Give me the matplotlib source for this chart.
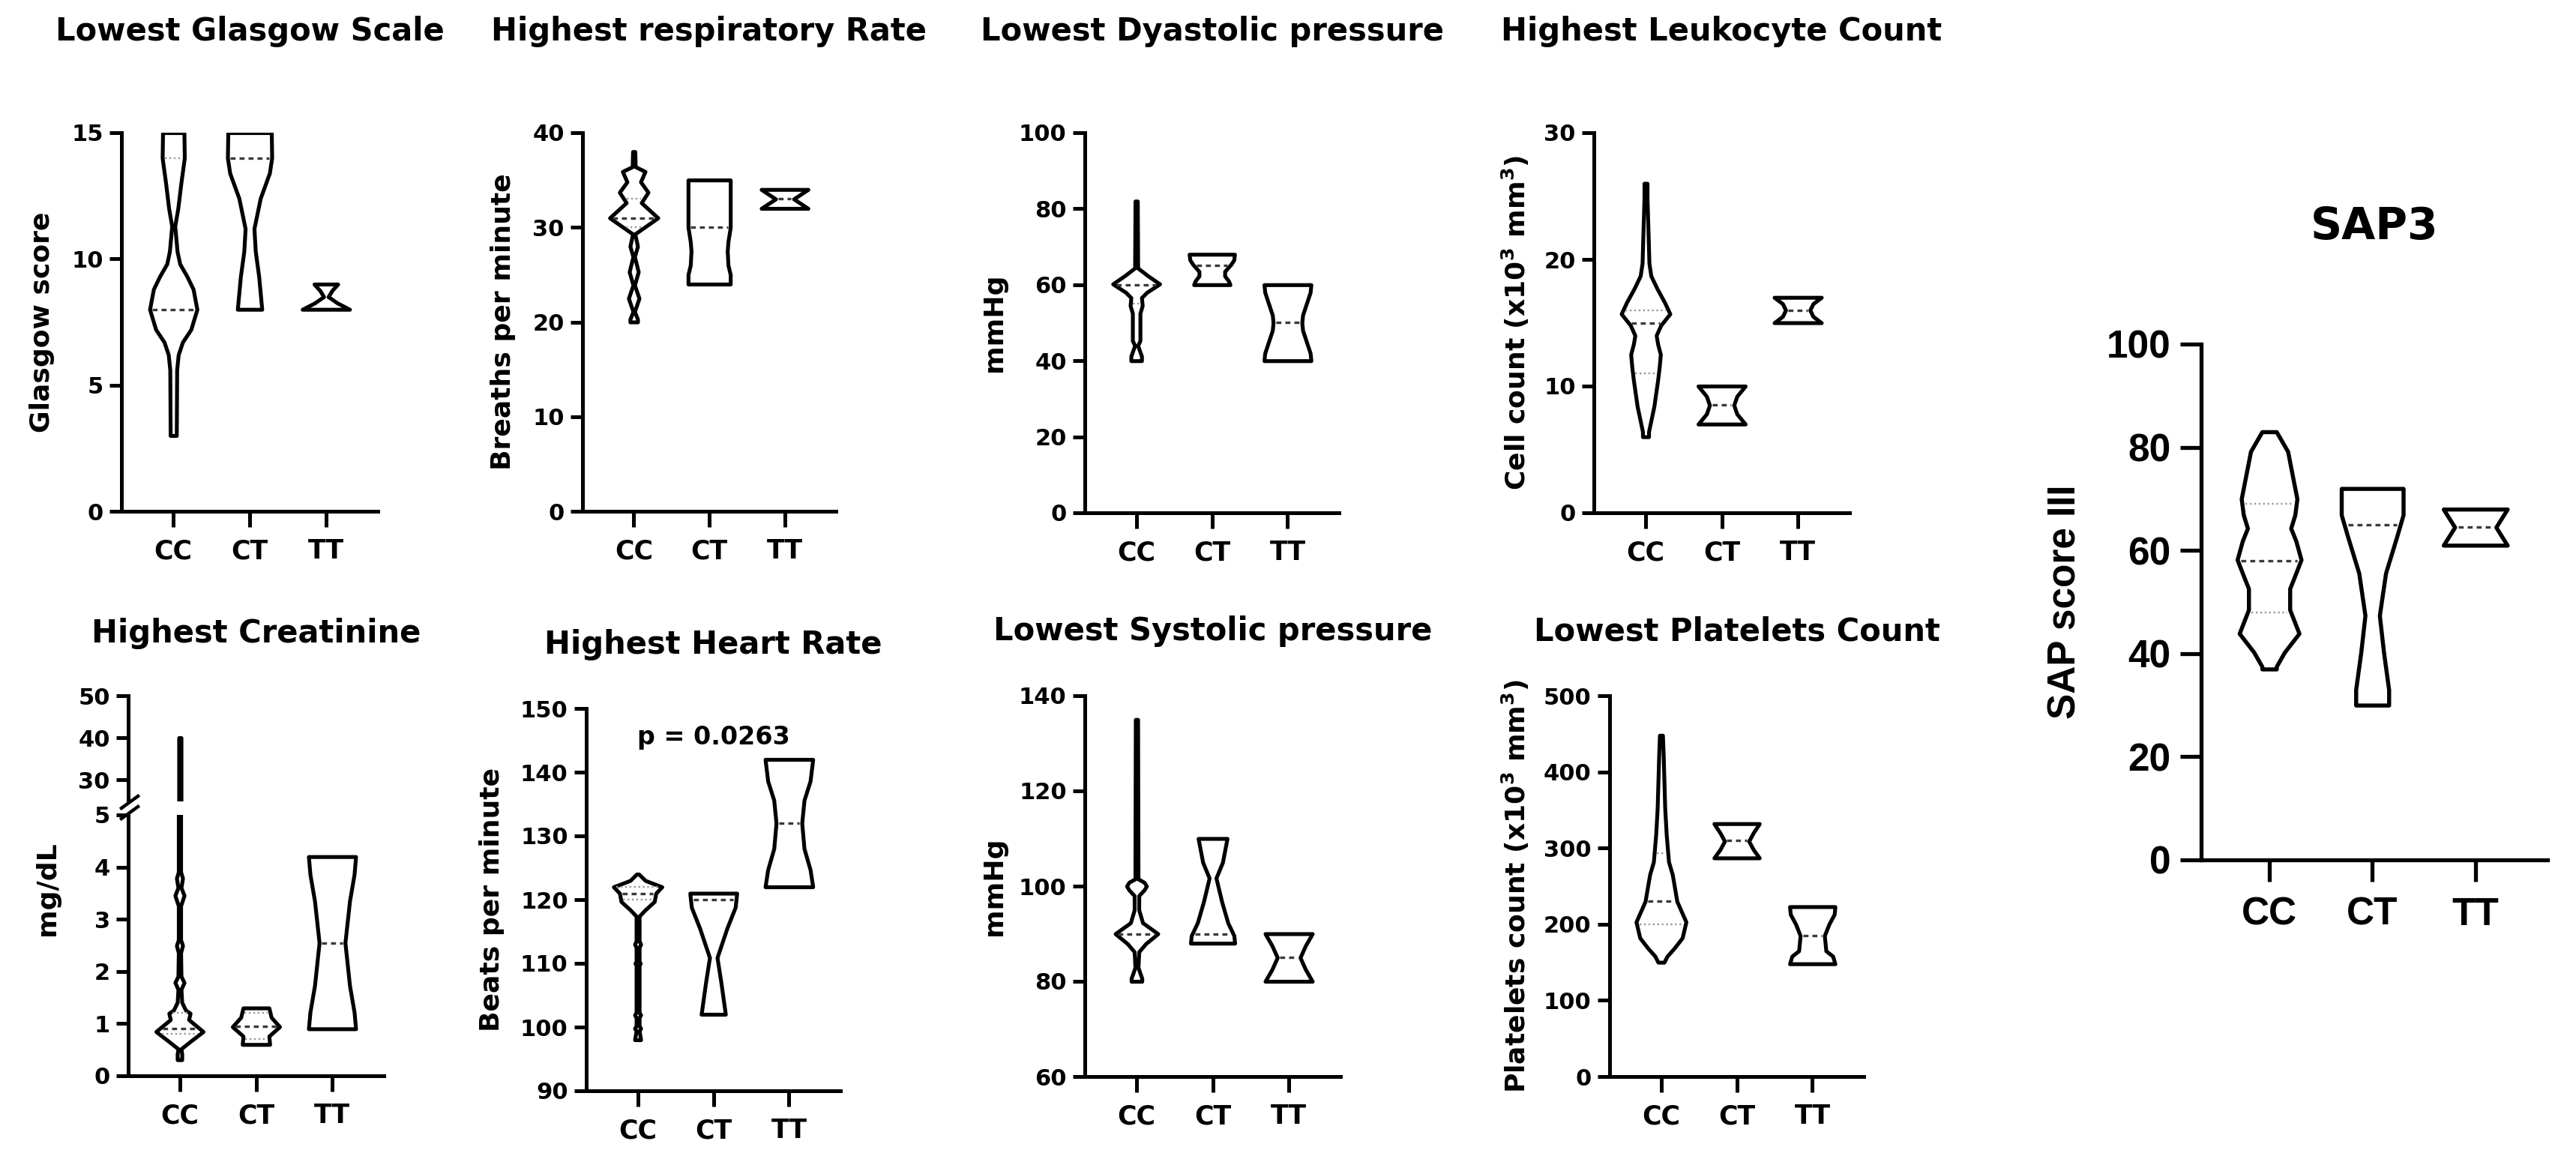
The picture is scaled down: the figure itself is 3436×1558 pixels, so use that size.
import numpy as np
import matplotlib
matplotlib.use('Agg')
import matplotlib.pyplot as plt
from matplotlib.lines import Line2D

W, H = 3436, 1558
plt.rcParams['font.family'] = ['DejaVu Sans']
plt.rcParams['font.weight'] = 'bold'
plt.rcParams['mathtext.default'] = 'bf'

groups = ['CC', 'CT', 'TT']

# violin outlines: (value, half width in category units)
glasgow_cc = [(15, .14), (14, .145), (13, .10), (12, .06), (11.3, .02), (10.3, .05), (9.8, .085),
              (9.3, .18), (8.8, .26), (8.0, .31), (7.2, .23), (6.7, .12), (6.2, .065), (5.6, .045), (3, .04)]
glasgow_ct = [(15, .285), (14, .29), (13.4, .26), (12.9, .2), (12.4, .14), (11.2, .058), (10.3, .075),
              (9.3, .12), (8, .16)]
glasgow_tt = [(9, .155), (8.75, .08), (8.5, .03), (8.25, .15), (8, .31)]
glasgow_med = [8, 14, None]
glasgow_q = [[14], [], []]

resp_cc = [(38, .015), (36.4, .02), (35.9, .15), (34.8, .09), (33.7, .19), (32.6, .10), (31.0, .32),
           (29.3, .015), (28.0, .05), (26.9, .01), (25.3, .06), (23.9, .01), (22.5, .07), (21.1, .01),
           (20.3, .05), (20, .05)]
resp_ct = [(35, .28), (33, .28), (30, .28), (28.5, .25), (27.5, .24), (26, .25), (25, .28), (24, .28)]
resp_tt = [(34, .31), (33, .12), (32, .31)]
resp_med = [31, 30, 33]
resp_q = [[33, 30], [], []]

dia_cc = [(82, .015), (64.4, .02), (62.4, .15), (60.2, .31), (58, .14), (56.6, .07), (54.5, .08),
          (52.5, .05), (48.7, .05), (45.3, .05), (44, .02), (41.2, .07), (40, .07)]
dia_ct = [(68, .30), (66.5, .29), (65.3, .25), (63.5, .17), (62.3, .17), (61, .22), (60, .24)]
dia_tt = [(60, .31), (58, .30), (55, .25), (52, .2), (50, .19), (48, .2), (45, .25), (42, .30), (40, .31)]
dia_med = [60, 65, 50]
dia_q = [[55], [], []]

leu_cc = [(26, .02), (24.8, .02), (21.8, .035), (19.7, .045), (18.7, .07), (17.7, .15), (16.6, .25),
          (15.7, .32), (14.8, .2), (14.0, .14), (13.3, .16), (12.5, .195), (11.5, .18), (10.5, .16),
          (8.4, .11), (6.4, .04), (6, .04)]
leu_ct = [(10, .31), (9.2, .2), (8.5, .16), (7.8, .2), (7, .31)]
leu_tt = [(17, .31), (16.5, .2), (16, .16), (15.5, .2), (15, .31)]
leu_med = [15, 8.5, 16]
leu_q = [[16, 11], [], []]

cre_cc = [(40, .015), (5, .015), (3.9, .015), (3.78, .04), (3.6, .02), (3.45, .06), (3.25, .015),
          (2.6, .015), (2.49, .04), (2.35, .015), (1.9, .02), (1.78, .06), (1.65, .02), (1.4, .03),
          (1.25, .08), (1.19, .14), (1.07, .12), (0.84, .31), (0.66, .15), (0.51, .02), (0.41, .03), (0.3, .03)]
cre_ct = [(1.3, .17), (1.12, .2), (0.94, .31), (0.76, .17), (0.6, .18)]
cre_tt = [(4.2, .31), (3.86, .29), (3.35, .23), (2.55, .17), (1.73, .23), (1.22, .29), (0.9, .31)]
cre_med = [0.9, 0.95, 2.55]
cre_q = [[1.2, 0.8], [1.2, 0.7], []]

hr_cc = [(124, .015), (123, .1), (122, .32), (121, .24), (119.7, .22), (118.4, .1), (117.4, .02),
         (113.5, .02), (113, .04), (112.5, .02), (110.3, .02), (110, .035), (109.7, .02), (102.3, .02),
         (101.9, .04), (101.5, .02), (100.2, .02), (99.8, .04), (99.4, .02), (98, .04)]
hr_ct = [(121, .31), (118.8, .29), (115.5, .18), (110.9, .05), (107.1, .1), (102, .16)]
hr_tt = [(142, .315), (138.6, .28), (135.6, .2), (132, .17), (128, .2), (124.7, .28), (122, .315)]
hr_med = [121, 120, 132]
hr_q = [[122, 120], [], []]

sys_cc = [(135, .015), (101.5, .02), (100.8, .1), (100, .13), (99.2, .1), (98, .03), (95, .03),
          (92.3, .08), (90, .28), (87.9, .12), (86.2, .03), (82.9, .02), (80.6, .07), (80, .07)]
sys_ct = [(110, .19), (105, .13), (101.7, .045), (96.7, .12), (92.3, .2), (89.6, .28), (88, .29)]
sys_tt = [(90, .31), (87.5, .22), (85, .15), (82.5, .22), (80, .31)]
sys_med = [90, 90, 85]
sys_q = [[], [], []]

plt_cc = [(448, .02), (421, .03), (386, .04), (352, .05), (317, .07), (282, .10), (265, .15),
          (230, .21), (203, .33), (182, .28), (168, .17), (158, .08), (150, .04)]
plt_ct = [(332, .3), (320, .22), (309, .16), (298, .22), (287, .3)]
plt_tt = [(223, .3), (213, .29), (200, .22), (185, .16), (165, .18), (158, .27), (148, .3)]
plt_med = [230, 310, 185]
plt_q = [[293, 200], [], []]

sap_cc = [(83, .07), (79.2, .18), (75.1, .22), (70, .27), (66.9, .25), (64.3, .21), (61.8, .26),
          (58.2, .31), (54.6, .24), (52.6, .2), (48.5, .2), (43.9, .29), (40.3, .15), (37.5, .07), (37, .07)]
sap_ct = [(72, .3), (66.9, .3), (62.8, .24), (55.6, .13), (47.4, .07), (40.3, .11), (33, .16), (30, .16)]
sap_tt = [(68, .31), (64.5, .2), (61, .31)]
sap_med = [58, 65, 64.5]
sap_q = [[69, 48], [], []]

LW = 3.7


def rect(l, t, r, b):
    return [l / W, 1 - b / H, (r - l) / W, (b - t) / H]


def violin(ax, pos, prof, med, quarts, lw=LW):
    v = np.array([p[0] for p in prof], float)
    w = np.array([p[1] for p in prof], float)
    ax.fill_betweenx(v, pos - w, pos + w, facecolor='white', edgecolor='black',
                     lw=lw, joinstyle='round', zorder=3)
    if med is not None:
        hw = np.interp(med, v[::-1], w[::-1]) - 0.035
        ax.plot([pos - hw, pos + hw], [med, med], color='#3a3a3a', lw=2.4,
                ls=(0, (2, 1.6)), zorder=4, solid_capstyle='butt')
    for q in quarts:
        hw = np.interp(q, v[::-1], w[::-1]) - 0.035
        ax.plot([pos - hw, pos + hw], [q, q], color='#999999', lw=1.7,
                ls=(0, (1, 1.5)), zorder=4)


def style(ax, ylim, yticks, xlim=(-0.68, 2.68), xaxis=True):
    ax.set_xlim(*xlim)
    ax.set_ylim(*ylim)
    ax.set_yticks(yticks)
    for s in ['top', 'right']:
        ax.spines[s].set_visible(False)
    for s in ['left', 'bottom']:
        ax.spines[s].set_linewidth(3.6)
    ax.tick_params(axis='y', length=11.5, width=3.6, labelsize=22, pad=6)
    if xaxis:
        ax.set_xticks([0, 1, 2])
        ax.set_xticklabels(groups)
        ax.tick_params(axis='x', length=15, width=3.6, labelsize=25, pad=11)
    else:
        ax.spines['bottom'].set_visible(False)
        ax.set_xticks([])


fig = plt.figure(figsize=(W / 100, H / 100), dpi=100)

panels = [
    ("Lowest Glasgow Scale", "Glasgow score", (162, 177, 504, 682), (0, 15), [0, 5, 10, 15],
     [glasgow_cc, glasgow_ct, glasgow_tt], glasgow_med, glasgow_q, 42, 56),
    ("Highest respiratory Rate", "Breaths per minute", (777, 177, 1115, 682), (0, 40), [0, 10, 20, 30, 40],
     [resp_cc, resp_ct, resp_tt], resp_med, resp_q, 42, 671),
    ("Lowest Dyastolic pressure", "mmHg", (1447, 177, 1786, 684), (0, 100), [0, 20, 40, 60, 80, 100],
     [dia_cc, dia_ct, dia_tt], dia_med, dia_q, 42, 1326),
    ("Highest Leukocyte Count", r"Cell count (x10$^3$ mm$^3$)", (2126, 177, 2467, 684), (0, 30), [0, 10, 20, 30],
     [leu_cc, leu_ct, leu_tt], leu_med, leu_q, 42, 2021),
    ("Highest Heart Rate", "Beats per minute", (782, 945, 1121, 1455), (90, 150), [90, 100, 110, 120, 130, 140, 150],
     [hr_cc, hr_ct, hr_tt], hr_med, hr_q, 860, 656),
    ("Lowest Systolic pressure", "mmHg", (1447, 928, 1788, 1436), (60, 140), [60, 80, 100, 120, 140],
     [sys_cc, sys_ct, sys_tt], sys_med, sys_q, 842, 1326),
    ("Lowest Platelets Count", r"Platelets count (x10$^3$ mm$^3$)", (2147, 928, 2486, 1436), (0, 500),
     [0, 100, 200, 300, 400, 500], [plt_cc, plt_ct, plt_tt], plt_med, plt_q, 842, 2021),
]

for title, ylab, (l, t, r, b), ylim, yt, profs, meds, qs, ty, lx in panels:
    ax = fig.add_axes(rect(l, t, r, b))
    style(ax, ylim, yt)
    for i in range(3):
        violin(ax, i, profs[i], meds[i], qs[i])
    fig.text((l + r) / 2 / W, 1 - ty / H, title, ha='center', va='center', fontsize=30)
    fig.text(lx / W, 1 - (t + b) / 2 / H, ylab, rotation=90, ha='center', va='center', fontsize=26)
    if title == "Highest Heart Rate":
        ax.text(1, 145.5, "p = 0.0263", ha='center', va='center', fontsize=24)

# creatinine with a broken y axis
cre_profs = [cre_cc, cre_ct, cre_tt]
ax_up = fig.add_axes(rect(171, 928, 512, 1068))
style(ax_up, (25, 50), [30, 40, 50], xaxis=False)
ax_lo = fig.add_axes(rect(171, 1087, 512, 1435))
style(ax_lo, (0, 5), [0, 1, 2, 3, 4, 5])
for a in (ax_up, ax_lo):
    for i in range(3):
        violin(a, i, cre_profs[i], cre_med[i], cre_q[i])
for yc in (1070, 1084):
    fig.add_artist(Line2D([(171 - 9) / W, (171 + 13) / W], [1 - (yc + 8) / H, 1 - (yc - 8) / H],
                          transform=fig.transFigure, color='black', lw=3.2))
fig.text((171 + 512) / 2 / W, 1 - 845 / H, "Highest Creatinine", ha='center', va='center', fontsize=30)
fig.text(63 / W, 1 - 1185 / H, "mg/dL", rotation=90, ha='center', va='center', fontsize=26)

# SAP3 panel
ax = fig.add_axes(rect(2936, 459, 3398, 1147))
ax.set_xlim(-0.66, 2.70)
ax.set_ylim(0, 100)
ax.set_yticks([0, 20, 40, 60, 80, 100])
ax.set_xticks([0, 1, 2])
ax.set_xticklabels(groups)
for s in ['top', 'right']:
    ax.spines[s].set_visible(False)
for s in ['left', 'bottom']:
    ax.spines[s].set_linewidth(3.8)
ax.tick_params(axis='y', length=20, width=3.8, pad=9)
ax.tick_params(axis='x', length=21, width=3.8, pad=14)
for lab in ax.get_xticklabels() + ax.get_yticklabels():
    lab.set_fontfamily('Liberation Sans')
    lab.set_fontsize(37)
    lab.set_fontweight('bold')
for i, prof in enumerate([sap_cc, sap_ct, sap_tt]):
    violin(ax, i, prof, sap_med[i], sap_q[i], lw=3.9)
fig.text(3167 / W, 1 - 302 / H, "SAP3", ha='center', va='center', fontsize=42)
fig.text(2755 / W, 1 - 803 / H, "SAP score III", rotation=90, ha='center', va='center',
         fontsize=37, fontfamily='Liberation Sans', fontweight='bold')

fig.savefig('out.png', dpi=100, facecolor='white')
